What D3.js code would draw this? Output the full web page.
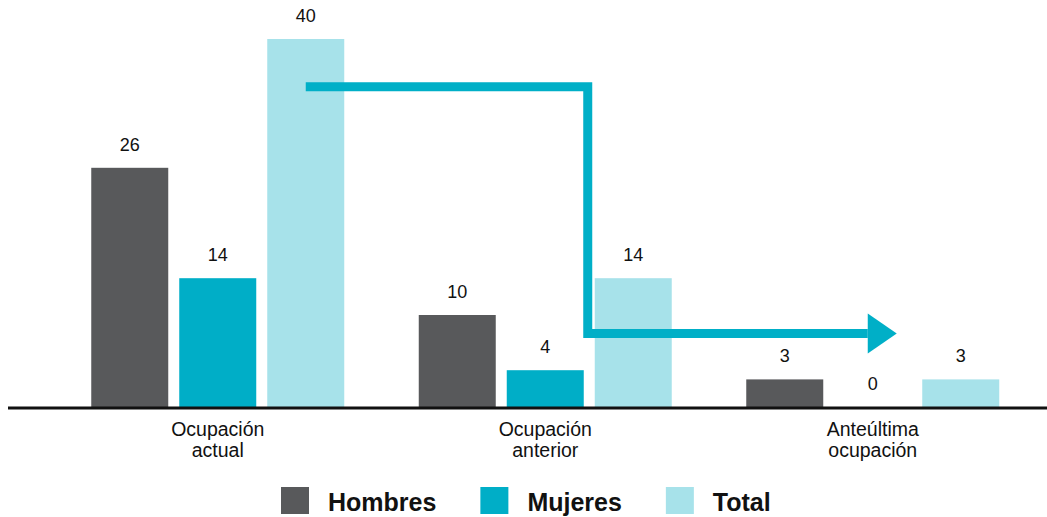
<!DOCTYPE html>
<html>
<head>
<meta charset="utf-8">
<script src="https://cdn.jsdelivr.net/npm/d3@7"></script>
<style>
  html, body { margin: 0; padding: 0; background: #fff; }
  svg { display: block; font-family: "Liberation Sans", Arial, sans-serif; }
</style>
</head>
<body>
<svg id="chart" width="1047" height="517"></svg>
<script>
const categories = ['Ocupación actual', 'Ocupación anterior', 'Anteúltima ocupación'];
const categoryLines = [['Ocupación', 'actual'], ['Ocupación', 'anterior'], ['Anteúltima', 'ocupación']];
const series = ['Hombres', 'Mujeres', 'Total'];
const hombres = [26, 10, 3];
const mujeres = [14, 4, 0];
const total = [40, 14, 3];
const colors = ['#58595b', '#00aec7', '#a7e2ea'];

const values = [hombres, mujeres, total];
const rows = categories.map((c, i) => ({
    cat: c,
    items: series.map((s, j) => ({ series: s, value: values[j][i] }))
}));

const svg = d3.select('#chart');

const x0 = d3.scaleBand()
    .domain(categories)
    .range([54, 1036.5])
    .paddingInner(0.2275)
    .paddingOuter(0.11375);

const x1 = d3.scaleBand()
    .domain(series)
    .range([0, x0.bandwidth()])
    .paddingInner(0.125);

const y = d3.scaleLinear()
    .domain([0, 40])
    .range([407, 39]);

const color = d3.scaleOrdinal().domain(series).range(colors);

// Bars
const groups = svg.append('g')
    .selectAll('g')
    .data(rows)
    .join('g')
    .attr('transform', (d) => `translate(${x0(d.cat)},0)`);

groups.selectAll('rect')
    .data((d) => d.items)
    .join('rect')
    .attr('x', (d) => x1(d.series))
    .attr('y', (d) => y(d.value))
    .attr('width', x1.bandwidth())
    .attr('height', (d) => y(0) - y(d.value))
    .attr('fill', (d) => color(d.series));

// Value labels
groups.selectAll('text')
    .data((d) => d.items)
    .join('text')
    .attr('x', (d) => x1(d.series) + x1.bandwidth() / 2)
    .attr('y', (d) => y(d.value) - 17)
    .attr('text-anchor', 'middle')
    .attr('font-size', '18px')
    .attr('fill', '#111')
    .text((d) => d.value);

// Arrow annotation
const tip = (cat, s) => x0(cat) + x1(s) + x1.bandwidth() / 2;
const startX = tip(categories[0], 'Total');
const cornerX = x0(categories[1]) + x1('Total') - 7;
const endX = tip(categories[2], 'Mujeres') - 5;
const topY = y(34.8);
const lowY = y(8);

svg.append('path')
    .attr('d', d3.line()([[startX, topY], [cornerX, topY], [cornerX, lowY], [endX, lowY]]))
    .attr('fill', 'none')
    .attr('stroke', '#00afc7')
    .attr('stroke-width', 9)
    .attr('stroke-linejoin', 'miter');

svg.append('path')
    .attr('d', d3.line()([[endX, lowY - 20], [endX + 29, lowY], [endX, lowY + 20]]) + 'Z')
    .attr('fill', '#00afc7');

// Baseline
svg.append('line')
    .attr('x1', 8).attr('x2', 1047)
    .attr('y1', y(0) + 1).attr('y2', y(0) + 1)
    .attr('stroke', '#111')
    .attr('stroke-width', 3);

// Category labels
const catLabels = svg.append('g')
    .selectAll('text')
    .data(categories)
    .join('text')
    .attr('x', (d) => x0(d) + x0.bandwidth() / 2)
    .attr('y', 436)
    .attr('text-anchor', 'middle')
    .attr('font-size', '19.5px')
    .attr('fill', '#111');

catLabels.selectAll('tspan')
    .data((d, i) => categoryLines[i])
    .join('tspan')
    .attr('x', function () { return d3.select(this.parentNode).attr('x'); })
    .attr('dy', (d, i) => (i === 0 ? 0 : 21))
    .text((d) => d);

// Legend
const legend = svg.append('g');
let lx = 281;
series.forEach((s) => {
    legend.append('rect')
        .attr('x', lx).attr('y', 487)
        .attr('width', 28).attr('height', 27)
        .attr('fill', color(s));
    const t = legend.append('text')
        .attr('x', lx + 47)
        .attr('y', 511)
        .attr('font-size', '25px')
        .attr('font-weight', 'bold')
        .attr('fill', '#111')
        .text(s);
    lx += 47 + t.node().getComputedTextLength() + 44;
});
</script>
</body>
</html>
